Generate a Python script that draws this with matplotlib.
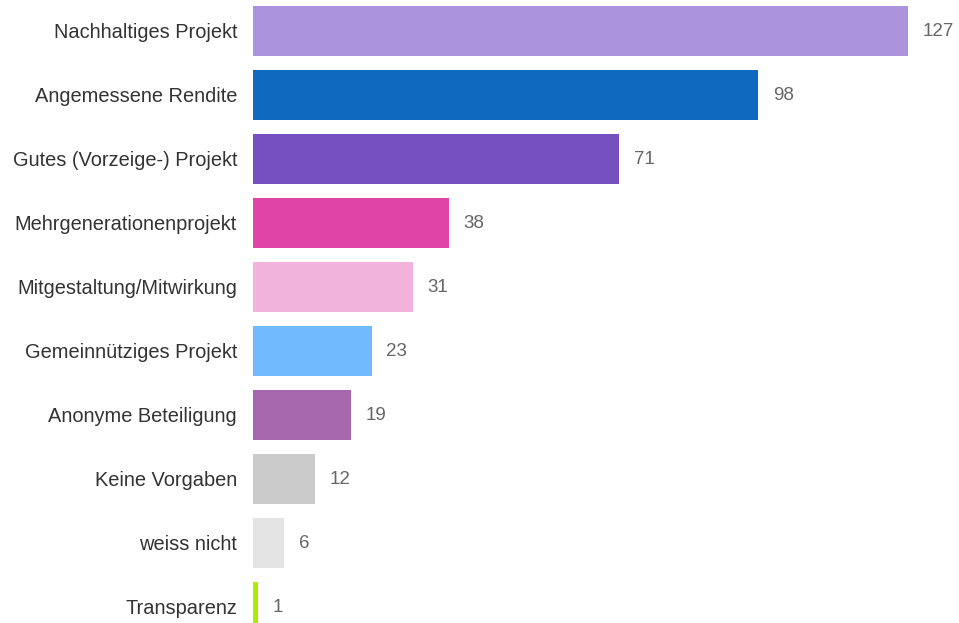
import matplotlib
matplotlib.use("Agg")
import matplotlib.pyplot as plt

categories = [
    "Nachhaltiges Projekt",
    "Angemessene Rendite",
    "Gutes (Vorzeige-) Projekt",
    "Mehrgenerationenprojekt",
    "Mitgestaltung/Mitwirkung",
    "Gemeinnütziges Projekt",
    "Anonyme Beteiligung",
    "Keine Vorgaben",
    "weiss nicht",
    "Transparenz",
]
values = [127, 98, 71, 38, 31, 23, 19, 12, 6, 1]
colors = [
    "#ab94dd", "#0e69bf", "#764fc0", "#e045a5", "#f1b3dc",
    "#6fbbfe", "#a667ad", "#cbcbcb", "#e4e4e4", "#a9ee00",
]

W, H, DPI = 959, 623, 100
fig = plt.figure(figsize=(W / DPI, H / DPI), dpi=DPI)
plt.rcParams["font.family"] = ["Liberation Sans", "DejaVu Sans"]

left_px = 253
ax = fig.add_axes([left_px / W, 0, 1 - left_px / W, 1])
px_per_unit = (908 - left_px) / 127
ax.set_xlim(0, (W - left_px) / px_per_unit)
pitch = 64
top_center = 31
ax.set_ylim((H - top_center) / pitch, -top_center / pitch)

ypos = list(range(len(categories)))
ax.barh(ypos, values, height=50 / pitch, color=colors)

for y, v in zip(ypos, values):
    ax.annotate(str(v), (v, y), xytext=(10.5, 0), textcoords="offset points",
                ha="left", va="center", fontsize=13.5, color="#666666")

ax.set_yticks(ypos)
ax.set_yticklabels(categories, fontsize=14.4, color="#333333")
ax.tick_params(axis="y", length=0, pad=11.5)
ax.set_xticks([])
for s in ax.spines.values():
    s.set_visible(False)

fig.savefig("out.png", dpi=DPI)
